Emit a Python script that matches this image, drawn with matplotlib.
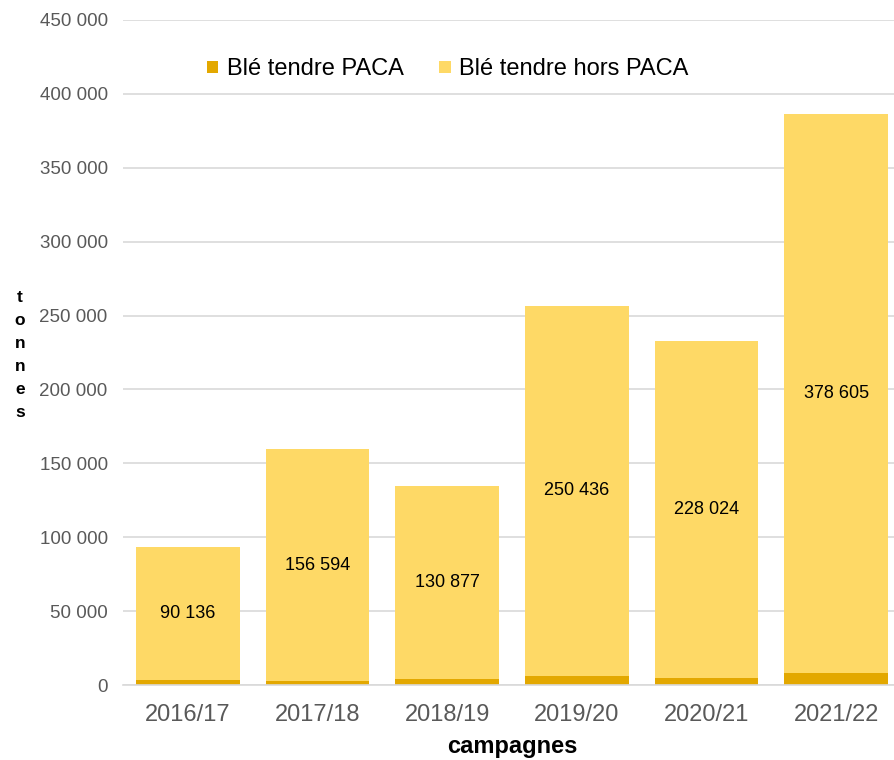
import matplotlib.pyplot as plt
from matplotlib.ticker import FuncFormatter

# Données (tonnes)
campagnes = ["2016/17", "2017/18", "2018/19", "2019/20", "2020/21", "2021/22"]
ble_paca = [3300, 2900, 3800, 6200, 4800, 8000]
ble_hors_paca = [90136, 156594, 130877, 250436, 228024, 378605]

couleur_paca = '#E3A800'
couleur_hors = '#FED966'

plt.rcParams['font.family'] = ['Liberation Sans', 'DejaVu Sans']

fig = plt.figure(figsize=(8.94, 7.6), dpi=100)
ax = fig.add_axes([123 / 894, 75 / 760, 778 / 894, 665 / 760])

x = range(len(campagnes))
ax.bar(x, ble_paca, width=0.8, color=couleur_paca, label='Blé tendre PACA', zorder=2)
ax.bar(x, ble_hors_paca, width=0.8, bottom=ble_paca, color=couleur_hors,
       label='Blé tendre hors PACA', zorder=2)

# Étiquettes au centre des segments
for i, (b, v) in enumerate(zip(ble_paca, ble_hors_paca)):
    txt = f"{v:,}".replace(",", " ")
    ax.text(i, b + v / 2, txt, ha='center', va='center', fontsize=13, color='black', zorder=3)

ax.set_xlim(-0.5, len(campagnes) - 0.5)
ax.set_ylim(0, 450000)
ax.set_yticks(range(0, 450001, 50000))
ax.yaxis.set_major_formatter(FuncFormatter(lambda v, p: f"{int(v):,}".replace(",", " ")))
ax.set_xticks(list(x))
ax.set_xticklabels(campagnes)

ax.grid(axis='y', color='#D9D9D9', linewidth=1.2, zorder=0)
for s in ['top', 'right', 'left']:
    ax.spines[s].set_visible(False)
ax.spines['bottom'].set_color('#D9D9D9')
ax.spines['bottom'].set_linewidth(1.2)
ax.tick_params(axis='both', length=0)
ax.tick_params(axis='y', labelsize=13.5, labelcolor='#595959', pad=11)
ax.tick_params(axis='x', labelsize=17, labelcolor='#595959', pad=14)

ax.set_xlabel('campagnes', fontsize=17, fontweight='bold', labelpad=6)
fig.text(20 / 894, 0.533, "t\no\nn\nn\ne\ns", ha='center', va='center',
         fontsize=12.5, fontweight='bold', linespacing=1.68)

ax.legend(loc='center', bbox_to_anchor=(0.417, 0.926), ncol=2, frameon=False,
          fontsize=17, handlelength=0.5, handleheight=0.39, handletextpad=0.35,
          columnspacing=1.5, borderaxespad=0)

fig.savefig('out.png', dpi=100)
plt.close(fig)
